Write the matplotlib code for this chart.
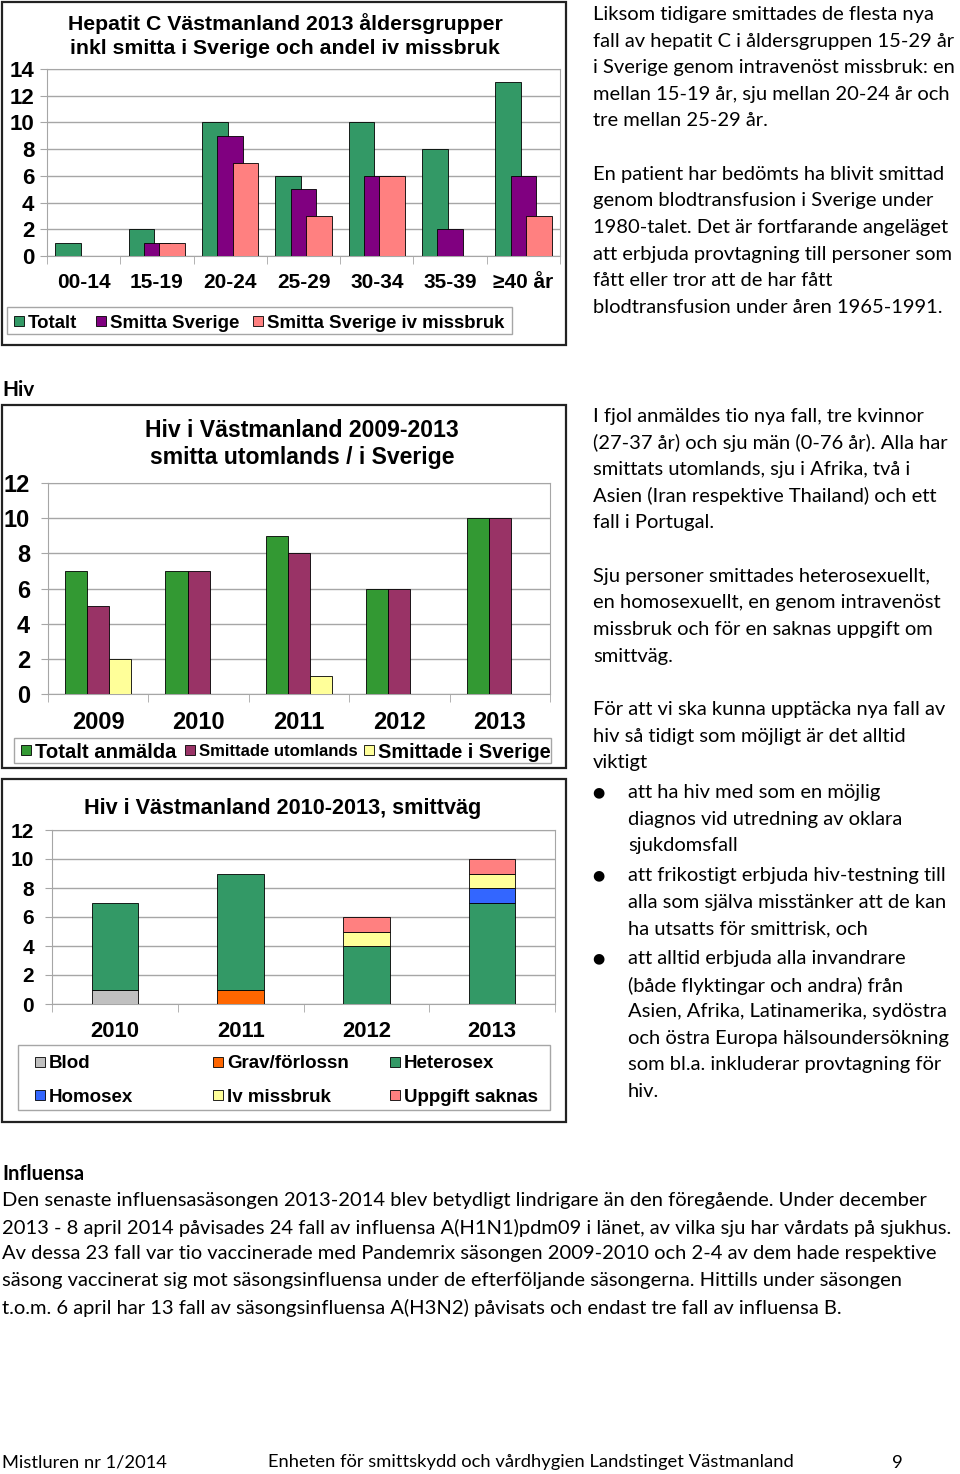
import numpy as np
import matplotlib
matplotlib.use('Agg')
import matplotlib.pyplot as plt
from matplotlib.patches import Rectangle
from matplotlib.textpath import TextPath
from matplotlib.font_manager import FontProperties

# ---- data: Hepatit C 2013 by age group
hep_groups = ['00-14', '15-19', '20-24', '25-29', '30-34', '35-39', '≥40 år']
hep_totalt = [1, 2, 10, 6, 10, 8, 13]
hep_sverige = [0, 1, 9, 5, 6, 2, 6]
hep_iv = [0, 1, 7, 3, 6, 0, 3]
hep_names = ['Totalt', 'Smitta Sverige', 'Smitta Sverige iv missbruk']
hep_colors = ['#339966', '#800080', '#FF8080']

# ---- data: Hiv 2009-2013 abroad / Sweden
hiv_years = ['2009', '2010', '2011', '2012', '2013']
hiv_totalt = [7, 7, 9, 6, 10]
hiv_utomlands = [5, 7, 8, 6, 10]
hiv_sverige = [2, 0, 1, 0, 0]
hiv_names = ['Totalt anmälda', 'Smittade utomlands', 'Smittade i Sverige']
hiv_colors = ['#339933', '#993366', '#FFFF99']

# ---- data: Hiv 2010-2013 by route
route_years = ['2010', '2011', '2012', '2013']
route_names = ['Blod', 'Grav/förlossn', 'Heterosex', 'Homosex', 'Iv missbruk', 'Uppgift saknas']
route_blod = [1, 0, 0, 0]
route_grav = [0, 1, 0, 0]
route_hetero = [6, 8, 4, 7]
route_homo = [0, 0, 0, 1]
route_iv = [0, 0, 1, 1]
route_okand = [0, 0, 1, 1]
route_colors = ['#C0C0C0', '#FF6600', '#339966', '#3366FF', '#FFFF99', '#FF8080']

W, H = 960, 1474
fig = plt.figure(figsize=(W / 100, H / 100), dpi=100)
CHART_FONT = 'Liberation Sans'
BODY_FONT = 'Lato'
GRID = '#A6A6A6'


def fx(x):
    return x / W


def fy(y):
    return 1 - y / H


def px_axes(x0, y0, x1, y1):
    return fig.add_axes([fx(x0), fy(y1), (x1 - x0) / W, (y1 - y0) / H])


def box(x0, y0, x1, y1, ec='#222222', lw=1.6, fc='none'):
    fig.add_artist(Rectangle((fx(x0), fy(y1)), (x1 - x0) / W, (y1 - y0) / H,
                             transform=fig.transFigure, facecolor=fc,
                             edgecolor=ec, linewidth=lw))


def txt(x, y, s, size, family=BODY_FONT, weight='normal', ha='left'):
    fig.text(fx(x), fy(y), s, fontsize=size, family=family, weight=weight,
             ha=ha, va='center_baseline', color='black')


def fit(s, px, family, weight='normal'):
    fp = FontProperties(family=family, weight=weight, size=10)
    w = TextPath((0, 0), s, prop=fp).get_extents().width
    return 10 * px / (w * 100 / 72)


def style_axes(ax, ncat, ymax, ysize, xsize, labels, ypad, xpad):
    ax.set_xlim(0, ncat)
    ax.set_ylim(0, ymax)
    ax.set_yticks(np.arange(0, ymax + 1, 2))
    ax.grid(axis='y', color=GRID, linewidth=1)
    ax.set_axisbelow(True)
    for sp in ax.spines.values():
        sp.set_color(GRID)
    ax.set_xticks(np.arange(ncat) + 0.5)
    ax.set_xticklabels(labels)
    ax.set_xticks(np.arange(ncat + 1), minor=True)
    ax.tick_params(axis='x', which='major', length=0, pad=xpad)
    ax.tick_params(axis='x', which='minor', length=6, color=GRID)
    ax.tick_params(axis='y', length=5, color=GRID, pad=ypad)
    for lab in ax.get_yticklabels():
        lab.set_fontsize(ysize)
        lab.set_fontweight('bold')
        lab.set_family(CHART_FONT)
    for lab in ax.get_xticklabels():
        lab.set_fontsize(xsize)
        lab.set_fontweight('bold')
        lab.set_family(CHART_FONT)


def legend_item(x, y, color, label, size):
    box(x - 5, y - 5, x + 5, y + 5, ec='black', lw=0.6, fc=color)
    txt(x + 9, y, label, size, family=CHART_FONT, weight='bold')


# ================= Chart 1: Hepatit C =================
box(2, 2, 566, 345)
txt(285, 22, 'Hepatit C Västmanland 2013 åldersgrupper', 15.3, CHART_FONT, 'bold', 'center')
txt(285, 47, 'inkl smitta i Sverige och andel iv missbruk', 15.3, CHART_FONT, 'bold', 'center')
ax1 = px_axes(47, 69, 560, 256)
x = np.arange(len(hep_groups)) + 0.5
for vals, off, col in zip([hep_totalt, hep_sverige, hep_iv], [-0.21, 0, 0.21], hep_colors):
    v = np.array(vals)
    m = v > 0
    ax1.bar(x[m] + off, v[m], 0.35, color=col, edgecolor='black', linewidth=0.6, zorder=3)
style_axes(ax1, len(hep_groups), 14, 16, 15, hep_groups, ypad=4, xpad=12)
box(7, 307, 512, 334, ec=GRID, lw=1)
for lx, col, name in zip([19, 101, 258], hep_colors, hep_names):
    legend_item(lx, 321, col, name, 13.4)

# ================= Chart 2: Hiv 2009-2013 =================
txt(2, 388, 'Hiv', 15, BODY_FONT, 'bold')
box(2, 405, 566, 768)
txt(302, 428, 'Hiv i Västmanland 2009-2013', 16.6, CHART_FONT, 'bold', 'center')
txt(302, 455, 'smitta utomlands / i Sverige', 16.6, CHART_FONT, 'bold', 'center')
ax2 = px_axes(48, 483, 550, 694)
x = np.arange(len(hiv_years)) + 0.5
for vals, off, col in zip([hiv_totalt, hiv_utomlands, hiv_sverige], [-0.22, 0, 0.22], hiv_colors):
    v = np.array(vals)
    m = v > 0
    ax2.bar(x[m] + off, v[m], 0.22, color=col, edgecolor='black', linewidth=0.6, zorder=3)
style_axes(ax2, len(hiv_years), 12, 17, 17, hiv_years, ypad=8, xpad=12)
box(14, 738, 551, 763, ec=GRID, lw=1)
legend_item(26, 750, hiv_colors[0], hiv_names[0], 14.6)
legend_item(190, 750, hiv_colors[1], hiv_names[1], 12)
legend_item(369, 750, hiv_colors[2], hiv_names[2], 14.3)

# ================= Chart 3: Hiv smittväg =================
box(2, 779, 566, 1122)
txt(283, 806, 'Hiv i Västmanland 2010-2013, smittväg', 15.6, CHART_FONT, 'bold', 'center')
ax3 = px_axes(52, 830, 555, 1004)
x = np.arange(len(route_years)) + 0.5
bottom = np.zeros(len(route_years))
for vals, col in zip([route_blod, route_grav, route_hetero, route_homo, route_iv, route_okand], route_colors):
    v = np.array(vals, dtype=float)
    m = v > 0
    ax3.bar(x[m], v[m], 0.37, bottom=bottom[m], color=col, edgecolor='black', linewidth=0.6, zorder=3)
    bottom += v
style_axes(ax3, len(route_years), 12, 15, 15.8, route_years, ypad=8, xpad=12)
box(18, 1045, 550, 1110, ec=GRID, lw=1)
for i, (col, name) in enumerate(zip(route_colors, route_names)):
    lx = [40, 218, 395][i % 3]
    ly = [1062, 1095][i // 3]
    legend_item(lx, ly, col, name, 13.5)

# ================= Body text =================
BODY = fit('Den senaste influensasäsongen 2013-2014 blev betydligt lindrigare än den föregående. Under december',
           926, BODY_FONT)

hep_text = [
    (13, 'Liksom tidigare smittades de flesta nya'),
    (40, 'fall av hepatit C i åldersgruppen 15-29 år'),
    (66, 'i Sverige genom intravenöst missbruk: en'),
    (93, 'mellan 15-19 år, sju mellan 20-24 år och'),
    (119, 'tre mellan 25-29 år.'),
    (173, 'En patient har bedömts ha blivit smittad'),
    (199, 'genom blodtransfusion i Sverige under'),
    (226, '1980-talet. Det är fortfarande angeläget'),
    (253, 'att erbjuda provtagning till personer som'),
    (279, 'fått eller tror att de har fått'),
    (306, 'blodtransfusion under åren 1965-1991.'),
]
hiv_text = [
    (415, 'I fjol anmäldes tio nya fall, tre kvinnor'),
    (441, '(27-37 år) och sju män (0-76 år). Alla har'),
    (468, 'smittats utomlands, sju i Afrika, två i'),
    (494, 'Asien (Iran respektive Thailand) och ett'),
    (521, 'fall i Portugal.'),
    (575, 'Sju personer smittades heterosexuellt,'),
    (601, 'en homosexuellt, en genom intravenöst'),
    (628, 'missbruk och för en saknas uppgift om'),
    (655, 'smittväg.'),
    (708, 'För att vi ska kunna upptäcka nya fall av'),
    (735, 'hiv så tidigt som möjligt är det alltid'),
    (761, 'viktigt'),
]
bullet_text = [
    (791, 'att ha hiv med som en möjlig', True),
    (818, 'diagnos vid utredning av oklara', False),
    (844, 'sjukdomsfall', False),
    (874, 'att frikostigt erbjuda hiv-testning till', True),
    (901, 'alla som själva misstänker att de kan', False),
    (927, 'ha utsatts för smittrisk, och', False),
    (957, 'att alltid erbjuda alla invandrare', True),
    (984, '(både flyktingar och andra) från', False),
    (1010, 'Asien, Afrika, Latinamerika, sydöstra', False),
    (1037, 'och östra Europa hälsoundersökning', False),
    (1063, 'som bl.a. inkluderar provtagning för', False),
    (1090, 'hiv.', False),
]
flu_text = [
    (1199, 'Den senaste influensasäsongen 2013-2014 blev betydligt lindrigare än den föregående. Under december'),
    (1226, '2013 - 8 april 2014 påvisades 24 fall av influensa A(H1N1)pdm09 i länet, av vilka sju har vårdats på sjukhus.'),
    (1252, 'Av dessa 23 fall var tio vaccinerade med Pandemrix säsongen 2009-2010 och 2-4 av dem hade respektive'),
    (1279, 'säsong vaccinerat sig mot säsongsinfluensa under de efterföljande säsongerna. Hittills under säsongen'),
    (1306, 't.o.m. 6 april har 13 fall av säsongsinfluensa A(H3N2) påvisats och endast tre fall av influensa B.'),
]

for y, s in hep_text + hiv_text:
    txt(593, y, s, BODY)
for y, s, bullet in bullet_text:
    if bullet:
        txt(598, y, '●', BODY * 0.7, 'DejaVu Sans', ha='center')
    txt(628, y, s, BODY)

txt(2, 1172, 'Influensa', BODY, BODY_FONT, 'bold')
for y, s in flu_text:
    txt(2, y, s, BODY)

# ================= Footer =================
FOOT_FONT = ['Liberation Sans Narrow', 'Lato']
FOOT = fit('Enheten för smittskydd och vårdhygien Landstinget Västmanland', 523, FOOT_FONT)
txt(2, 1461, 'Mistluren nr 1/2014', FOOT, FOOT_FONT)
txt(268, 1461, 'Enheten för smittskydd och vårdhygien Landstinget Västmanland', FOOT, FOOT_FONT)
txt(892, 1461, '9', FOOT, FOOT_FONT)

fig.savefig('out.png', dpi=100, facecolor='white')
